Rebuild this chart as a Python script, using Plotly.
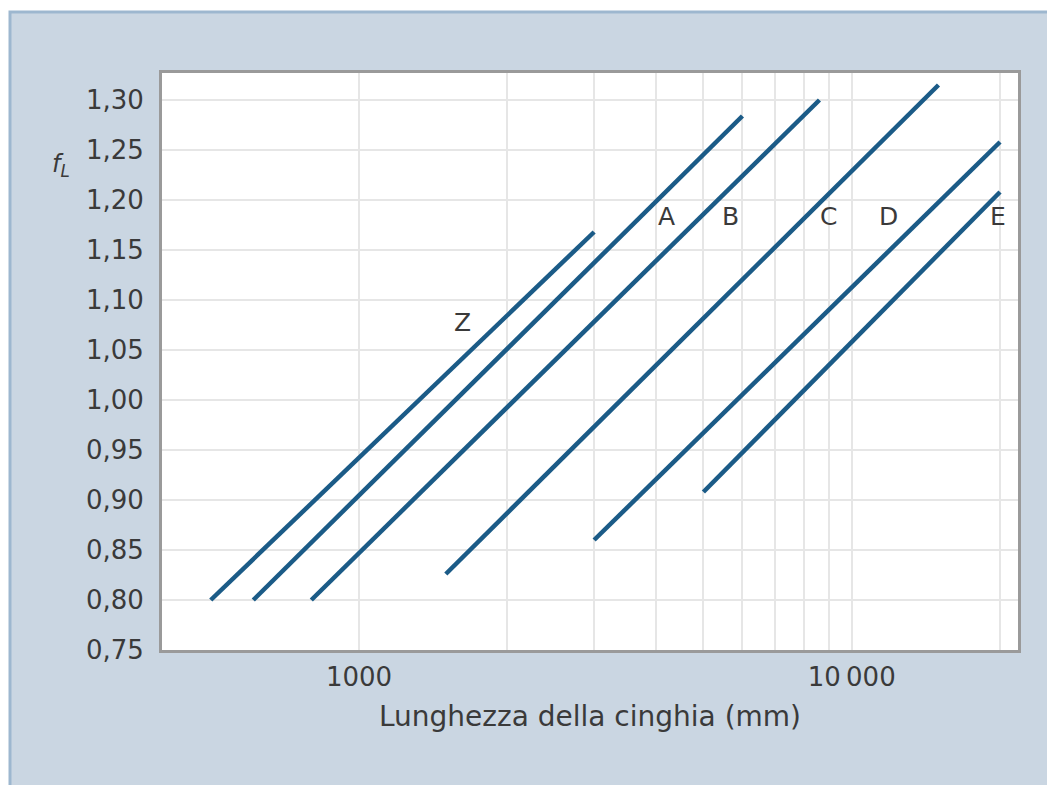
import math
import plotly.graph_objects as go

# ---- data ----
belts = ["Z", "A", "B", "C", "D", "E"]
x_start = [500, 610, 800, 1500, 3000, 5000]
x_end = [3000, 6000, 8600, 15000, 20000, 20000]
y_start = [0.80, 0.80, 0.80, 0.826, 0.86, 0.908]
y_end = [1.168, 1.284, 1.30, 1.315, 1.258, 1.208]

label_x = [1620, 4200, 5670, 8980, 11900, 19850]
label_y = [1.078, 1.184, 1.184, 1.184, 1.184, 1.184]

x_tickvals = [1000, 10000]
x_ticktext = ["1000", "10\u2009000"]
x_minor_vals = [2000, 3000, 4000, 5000, 6000, 7000, 8000, 9000, 20000]
y_tickvals = [0.75, 0.80, 0.85, 0.90, 0.95, 1.00, 1.05, 1.10, 1.15, 1.20, 1.25, 1.30]
y_ticktext = ["0,75", "0,80", "0,85", "0,90", "0,95", "1,00", "1,05", "1,10",
              "1,15", "1,20", "1,25", "1,30"]

LINE = "#1b5b87"
TXT = "#3a3a3a"
FONT = "DejaVu Sans"
GRID = "#e6e6e6"

fig = go.Figure()
for name, x0, x1, y0, y1 in zip(belts, x_start, x_end, y_start, y_end):
    fig.add_trace(go.Scatter(x=[x0, x1], y=[y0, y1], mode="lines", name=name,
                             line=dict(color=LINE, width=4.5), showlegend=False))

for name, lx, ly in zip(belts, label_x, label_y):
    fig.add_annotation(x=math.log10(lx), y=ly, xref="x", yref="y", text=name, showarrow=False,
                       font=dict(family=FONT, size=25, color=TXT), xanchor="center", yanchor="middle")

# page offset compensation (browser body margin ~8px)
OFF = 8
W, H = 1055 - OFF, 785 - OFF
L, R, T, B = 162 - OFF, 37, 73 - OFF, 135
pw, ph = W - L - R, H - T - B
def px(x):
    return (x - OFF - L) / pw
def py(y):
    return (H - B - (y - OFF)) / ph

# y-axis title f_L
fig.add_annotation(x=px(61), y=py(165), xref="paper", yref="paper",
                   text="<i>f<sub>L</sub></i>", showarrow=False,
                   font=dict(family=FONT, size=24, color=TXT), xanchor="center", yanchor="middle")

# panel background and white plot area
fig.add_shape(type="rect", xref="paper", yref="paper",
              x0=px(10), x1=px(1075), y0=py(800), y1=py(12),
              fillcolor="#cad6e2", line=dict(color="#9db7cf", width=3), layer="below")
fig.add_shape(type="rect", xref="paper", yref="paper",
              x0=0, x1=1, y0=0, y1=1,
              fillcolor="white", line=dict(width=0), layer="below")

fig.update_layout(
    width=W, height=H,
    margin=dict(l=L, r=R, t=T, b=B),
    paper_bgcolor="white", plot_bgcolor="white",
    font=dict(family=FONT, size=26, color=TXT),
    xaxis=dict(type="log", range=[2.6, 4.3375], tickvals=x_tickvals, ticktext=x_ticktext,
               showgrid=True, gridcolor=GRID, gridwidth=2, zeroline=False,
               minor=dict(tickvals=x_minor_vals, showgrid=True, gridcolor=GRID, gridwidth=2, ticks=""),
               showline=True, linecolor="#9a9a9a", linewidth=3, mirror=True,
               ticks="", tickfont=dict(family=FONT, size=26, color=TXT),
               ticklabelstandoff=2,
               title=dict(text="Lunghezza della cinghia (mm)", standoff=16,
                          font=dict(family=FONT, size=28, color=TXT))),
    yaxis=dict(range=[0.75, 1.327], tickvals=y_tickvals, ticktext=y_ticktext,
               showgrid=True, gridcolor=GRID, gridwidth=2, zeroline=False,
               showline=True, linecolor="#9a9a9a", linewidth=3, mirror=True,
               ticks="", tickfont=dict(family=FONT, size=26, color=TXT),
               ticklabelstandoff=10),
)

fig.write_html("out.html")
